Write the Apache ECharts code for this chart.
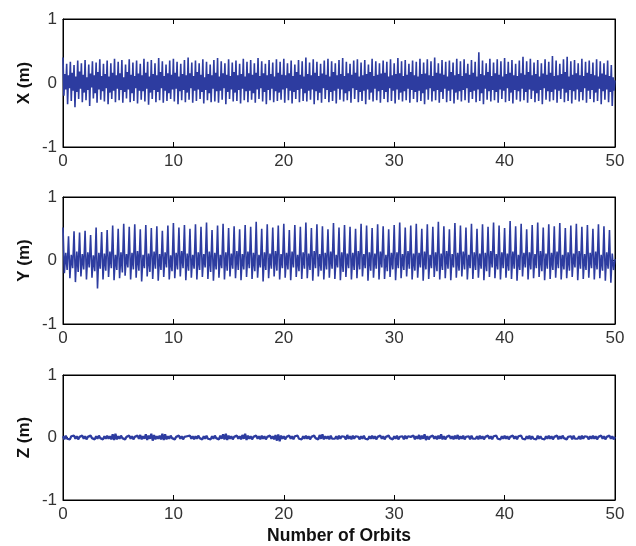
<!DOCTYPE html>
<html>
<head>
<meta charset="utf-8">
<script src="https://cdn.jsdelivr.net/npm/echarts@6/dist/echarts.min.js"></script>
<style>
    html, body {
        margin: 0;
        padding: 0;
        background: #fff;
    }
    #orbitChart {
        width: 636px;
        height: 546px;
    }
</style>
</head>
<body>
<div id="orbitChart"></div>
<script>
// sampling grids (orbits per sample)
const xStep = 1 / 12;
const yStep = 0.125;
const zStep = 0.125;
const xTicks = [0, 10, 20, 30, 40, 50];
const yTicks = [-1, 0, 1];
const panelNames = ["X (m)", "Y (m)", "Z (m)"];

// one row = one orbit
const xError = [
    0.40,-0.20,0.14,-0.10, 0.30,-0.33,0.12,-0.08, 0.33,-0.28,0.16,-0.12,
    0.28,-0.38,0.10,-0.14, 0.35,-0.25,0.18,-0.09, 0.31,-0.30,0.13,-0.15,
    0.36,-0.27,0.09,-0.11, 0.29,-0.36,0.15,-0.07, 0.34,-0.24,0.12,-0.16,
    0.32,-0.31,0.17,-0.10, 0.37,-0.26,0.11,-0.13, 0.30,-0.29,0.14,-0.08,
    0.35,-0.33,0.10,-0.15, 0.31,-0.25,0.16,-0.12, 0.38,-0.30,0.12,-0.09,
    0.33,-0.27,0.15,-0.11, 0.36,-0.31,0.09,-0.14, 0.29,-0.24,0.17,-0.10,
    0.37,-0.30,0.13,-0.16, 0.32,-0.28,0.11,-0.08, 0.35,-0.32,0.15,-0.12,
    0.30,-0.26,0.12,-0.13, 0.38,-0.29,0.16,-0.09, 0.33,-0.34,0.10,-0.15,
    0.36,-0.25,0.14,-0.11, 0.31,-0.30,0.12,-0.14, 0.39,-0.27,0.17,-0.08,
    0.34,-0.31,0.11,-0.12, 0.29,-0.28,0.15,-0.16, 0.35,-0.25,0.13,-0.10,
    0.38,-0.29,0.16,-0.09, 0.33,-0.33,0.10,-0.13, 0.30,-0.27,0.14,-0.11,
    0.36,-0.30,0.12,-0.15, 0.40,-0.26,0.15,-0.08, 0.32,-0.31,0.11,-0.12,
    0.35,-0.28,0.17,-0.10, 0.31,-0.25,0.13,-0.14, 0.37,-0.32,0.09,-0.11,
    0.33,-0.27,0.14,-0.16, 0.29,-0.30,0.12,-0.09, 0.36,-0.29,0.16,-0.13,
    0.39,-0.31,0.10,-0.12, 0.34,-0.26,0.15,-0.08, 0.31,-0.33,0.13,-0.14,
    0.37,-0.25,0.11,-0.10, 0.32,-0.29,0.17,-0.15, 0.35,-0.28,0.12,-0.11,
    0.30,-0.32,0.14,-0.09, 0.38,-0.27,0.10,-0.13, 0.33,-0.30,0.15,-0.12,
    0.36,-0.26,0.13,-0.16, 0.31,-0.31,0.16,-0.10, 0.39,-0.25,0.11,-0.08,
    0.34,-0.29,0.15,-0.14, 0.30,-0.33,0.12,-0.11, 0.36,-0.27,0.14,-0.09,
    0.32,-0.30,0.10,-0.13, 0.37,-0.28,0.16,-0.15, 0.33,-0.26,0.13,-0.10,
    0.38,-0.31,0.12,-0.08, 0.31,-0.27,0.15,-0.12, 0.35,-0.32,0.11,-0.14,
    0.29,-0.25,0.17,-0.11, 0.36,-0.30,0.13,-0.09, 0.34,-0.28,0.10,-0.16,
    0.40,-0.29,0.14,-0.12, 0.32,-0.26,0.12,-0.10, 0.37,-0.33,0.16,-0.13,
    0.33,-0.27,0.11,-0.15, 0.30,-0.31,0.15,-0.08, 0.35,-0.25,0.13,-0.11,
    0.38,-0.30,0.10,-0.14, 0.34,-0.28,0.17,-0.12, 0.31,-0.32,0.12,-0.09,
    0.36,-0.26,0.14,-0.10, 0.39,-0.29,0.11,-0.16, 0.33,-0.27,0.15,-0.13,
    0.30,-0.31,0.13,-0.08, 0.35,-0.25,0.16,-0.11, 0.37,-0.30,0.10,-0.14,
    0.32,-0.28,0.12,-0.12, 0.36,-0.33,0.14,-0.10, 0.29,-0.26,0.17,-0.15,
    0.38,-0.29,0.11,-0.09, 0.34,-0.27,0.13,-0.13, 0.31,-0.31,0.15,-0.11,
    0.35,-0.25,0.16,-0.14, 0.33,-0.30,0.10,-0.08, 0.37,-0.28,0.12,-0.12,
    0.31,-0.32,0.14,-0.10, 0.39,-0.26,0.15,-0.15, 0.34,-0.29,0.11,-0.13,
    0.36,-0.27,0.13,-0.09, 0.30,-0.31,0.17,-0.11, 0.35,-0.25,0.12,-0.14,
    0.33,-0.30,0.10,-0.12, 0.38,-0.28,0.14,-0.16, 0.32,-0.33,0.15,-0.10,
    0.37,-0.26,0.12,-0.08, 0.34,-0.29,0.11,-0.13, 0.40,-0.27,0.16,-0.11,
    0.31,-0.31,0.15,-0.14, 0.36,-0.25,0.13,-0.09, 0.33,-0.30,0.10,-0.12,
    0.35,-0.28,0.17,-0.10, 0.32,-0.32,0.12,-0.15, 0.38,-0.26,0.14,-0.13,
    0.34,-0.29,0.11,-0.11, 0.37,-0.27,0.15,-0.08, 0.30,-0.31,0.13,-0.14,
    0.36,-0.25,0.16,-0.12, 0.33,-0.30,0.10,-0.10, 0.48,-0.28,0.14,-0.16,
    0.35,-0.33,0.12,-0.09, 0.31,-0.26,0.17,-0.13, 0.38,-0.29,0.11,-0.11,
    0.32,-0.27,0.15,-0.14, 0.37,-0.31,0.13,-0.10, 0.34,-0.25,0.10,-0.12,
    0.39,-0.30,0.14,-0.08, 0.33,-0.28,0.16,-0.15, 0.36,-0.32,0.12,-0.11,
    0.30,-0.26,0.11,-0.13, 0.35,-0.29,0.15,-0.09, 0.41,-0.27,0.13,-0.14,
    0.34,-0.31,0.17,-0.10, 0.38,-0.25,0.12,-0.12, 0.32,-0.30,0.14,-0.16,
    0.36,-0.28,0.10,-0.11, 0.31,-0.33,0.15,-0.08, 0.37,-0.26,0.13,-0.13,
    0.33,-0.29,0.16,-0.14, 0.42,-0.27,0.11,-0.10, 0.35,-0.31,0.12,-0.12,
    0.30,-0.25,0.14,-0.09, 0.37,-0.30,0.17,-0.15, 0.41,-0.28,0.10,-0.11,
    0.34,-0.32,0.13,-0.13, 0.36,-0.26,0.15,-0.10, 0.31,-0.29,0.12,-0.14,
    0.38,-0.27,0.11,-0.08, 0.33,-0.31,0.16,-0.12, 0.35,-0.25,0.14,-0.11,
    0.32,-0.30,0.12,-0.15, 0.37,-0.28,0.10,-0.09, 0.34,-0.33,0.15,-0.13,
    0.31,-0.26,0.13,-0.10, 0.35,-0.30,0.11,-0.14, 0.28,-0.36,0.09,-0.12,
    0.04
];

// one row = two orbits
const yError = [
    0.52,-0.20,0.12,-0.15, 0.38,-0.28,0.09,-0.12, 0.46,-0.34,0.14,-0.18, 0.44,-0.25,0.10,-0.14,
    0.47,-0.30,0.13,-0.11, 0.40,-0.27,0.08,-0.17, 0.52,-0.44,0.12,-0.13, 0.45,-0.30,0.11,-0.16,
    0.48,-0.26,0.14,-0.12, 0.55,-0.31,0.09,-0.15, 0.50,-0.28,0.13,-0.19, 0.58,-0.24,0.10,-0.11,
    0.53,-0.30,0.12,-0.14, 0.57,-0.27,0.15,-0.16, 0.49,-0.33,0.09,-0.12, 0.56,-0.25,0.11,-0.18,
    0.51,-0.29,0.14,-0.13, 0.54,-0.32,0.10,-0.15, 0.47,-0.26,0.13,-0.11, 0.55,-0.30,0.08,-0.17,
    0.59,-0.28,0.12,-0.14, 0.52,-0.25,0.15,-0.12, 0.56,-0.31,0.11,-0.16, 0.50,-0.27,0.09,-0.13,
    0.57,-0.30,0.13,-0.15, 0.53,-0.26,0.10,-0.11, 0.60,-0.29,0.14,-0.18, 0.48,-0.32,0.12,-0.14,
    0.55,-0.27,0.09,-0.12, 0.58,-0.30,0.13,-0.16, 0.51,-0.25,0.11,-0.13, 0.54,-0.28,0.15,-0.15,
    0.49,-0.31,0.10,-0.14, 0.56,-0.26,0.14,-0.12, 0.53,-0.29,0.12,-0.17, 0.61,-0.27,0.09,-0.11,
    0.50,-0.33,0.13,-0.15, 0.57,-0.28,0.11,-0.13, 0.52,-0.25,0.15,-0.16, 0.55,-0.30,0.10,-0.12,
    0.58,-0.27,0.12,-0.14, 0.48,-0.31,0.14,-0.11, 0.56,-0.26,0.09,-0.17, 0.53,-0.29,0.13,-0.13,
    0.60,-0.28,0.11,-0.15, 0.51,-0.32,0.15,-0.12, 0.57,-0.25,0.10,-0.16, 0.54,-0.30,0.12,-0.14,
    0.49,-0.27,0.14,-0.13, 0.59,-0.29,0.09,-0.11, 0.52,-0.31,0.13,-0.18, 0.56,-0.26,0.11,-0.12,
    0.53,-0.30,0.12,-0.15, 0.50,-0.28,0.15,-0.14, 0.58,-0.25,0.10,-0.12, 0.55,-0.32,0.13,-0.16,
    0.51,-0.27,0.11,-0.13, 0.57,-0.30,0.14,-0.11, 0.54,-0.29,0.09,-0.17, 0.49,-0.26,0.12,-0.14,
    0.56,-0.31,0.13,-0.12, 0.60,-0.28,0.10,-0.15, 0.52,-0.25,0.15,-0.13, 0.55,-0.30,0.11,-0.16,
    0.58,-0.27,0.12,-0.11, 0.50,-0.32,0.14,-0.14, 0.57,-0.29,0.09,-0.12, 0.53,-0.26,0.13,-0.17,
    0.61,-0.30,0.11,-0.15, 0.54,-0.28,0.15,-0.13, 0.49,-0.31,0.10,-0.11, 0.59,-0.27,0.12,-0.16,
    0.55,-0.25,0.14,-0.14, 0.52,-0.30,0.09,-0.12, 0.58,-0.29,0.13,-0.15, 0.50,-0.27,0.11,-0.13,
    0.57,-0.31,0.12,-0.17, 0.53,-0.26,0.15,-0.11, 0.60,-0.28,0.10,-0.14, 0.55,-0.30,0.13,-0.12,
    0.51,-0.27,0.11,-0.16, 0.62,-0.29,0.14,-0.13, 0.54,-0.32,0.09,-0.15, 0.58,-0.25,0.12,-0.11,
    0.49,-0.30,0.13,-0.14, 0.56,-0.28,0.10,-0.12, 0.60,-0.26,0.15,-0.17, 0.52,-0.31,0.11,-0.13,
    0.57,-0.29,0.12,-0.15, 0.54,-0.27,0.14,-0.12, 0.59,-0.30,0.09,-0.14, 0.51,-0.28,0.13,-0.16,
    0.55,-0.26,0.11,-0.11, 0.58,-0.31,0.15,-0.13, 0.53,-0.29,0.10,-0.15, 0.56,-0.27,0.12,-0.12,
    0.50,-0.30,0.14,-0.14, 0.57,-0.28,0.09,-0.16, 0.54,-0.32,0.13,-0.13, 0.48,-0.35,0.11,-0.15,
    0.02
];

// one row = two orbits
const zError = [
    0.02,-0.03,0.03,-0.02,0.01,-0.03,0.02,-0.01,0.03,-0.02,0.02,-0.03,0.01,-0.02,0.03,-0.02,
    0.02,-0.03,0.01,-0.02,0.03,-0.01,0.02,-0.03,0.02,-0.02,0.03,-0.01,0.01,-0.03,0.02,-0.02,
    0.03,-0.02,0.02,-0.03,0.05,-0.04,0.06,-0.03,0.02,-0.02,0.03,-0.01,0.02,-0.03,0.01,-0.02,
    0.03,-0.02,0.02,-0.03,0.01,-0.02,0.03,-0.02,0.04,-0.03,0.02,-0.02,0.05,-0.04,0.03,-0.02,
    0.06,-0.05,0.04,-0.03,0.02,-0.02,0.03,-0.03,0.06,-0.04,0.05,-0.03,0.02,-0.02,0.03,-0.01,
    0.02,-0.03,0.01,-0.02,0.03,-0.02,0.02,-0.03,0.01,-0.02,0.02,-0.01,0.03,-0.02,0.02,-0.03,
    0.02,-0.02,0.03,-0.01,0.01,-0.03,0.02,-0.02,0.03,-0.02,0.01,-0.03,0.02,-0.02,0.03,-0.01,
    0.02,-0.03,0.03,-0.02,0.05,-0.03,0.06,-0.04,0.03,-0.02,0.02,-0.03,0.01,-0.02,0.03,-0.02,
    0.02,-0.03,0.04,-0.02,0.06,-0.04,0.03,-0.02,0.02,-0.03,0.01,-0.02,0.03,-0.02,0.02,-0.03,
    0.03,-0.02,0.02,-0.03,0.01,-0.02,0.03,-0.02,0.02,-0.03,0.04,-0.05,0.05,-0.06,0.03,-0.02,
    0.02,-0.03,0.01,-0.02,0.03,-0.02,0.02,-0.03,0.02,-0.01,0.03,-0.02,0.01,-0.03,0.02,-0.02,
    0.03,-0.02,0.02,-0.03,0.01,-0.02,0.03,-0.01,0.02,-0.03,0.04,-0.02,0.05,-0.03,0.02,-0.02,
    0.02,-0.03,0.03,-0.02,0.01,-0.02,0.02,-0.03,0.03,-0.02,0.02,-0.01,0.01,-0.03,0.04,-0.02,
    0.02,-0.03,0.03,-0.02,0.02,-0.01,0.01,-0.03,0.02,-0.02,0.03,-0.02,0.01,-0.03,0.02,-0.02,
    0.03,-0.02,0.02,-0.03,0.01,-0.02,0.03,-0.02,0.02,-0.03,0.01,-0.02,0.03,-0.01,0.02,-0.03,
    0.02,-0.02,0.03,-0.03,0.01,-0.02,0.02,-0.03,0.03,-0.02,0.02,-0.01,0.01,-0.02,0.03,-0.03,
    0.02,-0.02,0.04,-0.03,0.03,-0.02,0.05,-0.04,0.02,-0.03,0.01,-0.02,0.03,-0.02,0.02,-0.03,
    0.03,-0.02,0.05,-0.03,0.02,-0.03,0.01,-0.02,0.03,-0.02,0.02,-0.03,0.03,-0.02,0.04,-0.03,
    0.02,-0.02,0.03,-0.03,0.01,-0.02,0.02,-0.03,0.03,-0.02,0.01,-0.02,0.02,-0.03,0.03,-0.02,
    0.02,-0.03,0.01,-0.02,0.03,-0.02,0.02,-0.03,0.02,-0.01,0.03,-0.02,0.01,-0.03,0.02,-0.02,
    0.03,-0.02,0.02,-0.03,0.01,-0.02,0.03,-0.02,0.02,-0.03,0.02,-0.01,0.03,-0.02,0.01,-0.03,
    0.02,-0.02,0.03,-0.03,0.02,-0.02,0.01,-0.03,0.03,-0.02,0.02,-0.02,0.01,-0.03,0.02,-0.02,
    0.03,-0.02,0.02,-0.03,0.01,-0.02,0.03,-0.03,0.02,-0.02,0.03,-0.01,0.02,-0.03,0.01,-0.02,
    0.02,-0.03,0.03,-0.02,0.01,-0.02,0.02,-0.03,0.03,-0.02,0.02,-0.01,0.01,-0.03,0.02,-0.02,
    0.03,-0.02,0.02,-0.03,0.01,-0.02,0.03,-0.02,0.02,-0.03,0.01,-0.02,0.03,-0.02,0.02,-0.03,
    0.01
];

const lineColor = "#2d3ca0";
const tickFont = "Liberation Sans, Arial, sans-serif";
const nameFont = "Liberation Sans, Arial, sans-serif";
const panelTops = [19, 197, 375];
const panelHeights = [128, 127, 127];
const lineWidths = [1.6, 1.6, 2.2];

function toPoints(values, step) {
    return values.map((v, i) => [i * step, v]);
}

let grids = [];
let xAxes = [];
let yAxes = [];
let series = [];

const panels = [
    { values: xError, step: xStep },
    { values: yError, step: yStep },
    { values: zError, step: zStep },
];

const boxLine = { show: true, onZero: false, lineStyle: { color: "#000", width: 1 } };
const boxTick = { show: true, inside: true, length: 5, lineStyle: { color: "#000" } };

panels.forEach((panel, idx) => {
    grids.push({
        left: 63,
        top: panelTops[idx],
        width: 552,
        height: panelHeights[idx],
        show: true,
        borderColor: "#000",
        borderWidth: 1,
        backgroundColor: "#fff",
    });
    // bottom axis with labels
    xAxes.push({
        gridIndex: idx,
        type: "value",
        min: 0,
        max: 50,
        interval: 10,
        position: "bottom",
        name: idx == 2 ? "Number of Orbits" : "",
        nameLocation: "middle",
        nameGap: 27,
        nameMoveOverlap: false,
        nameTextStyle: {
            fontFamily: nameFont,
            fontSize: 17.5,
            fontWeight: "bold",
            color: "#111",
        },
        axisLine: boxLine,
        axisTick: boxTick,
        axisLabel: {
            margin: 6,
            fontFamily: tickFont,
            fontSize: 17,
            color: "#333",
            customValues: xTicks,
        },
        splitLine: { show: false },
    });
    // top axis, ticks only
    xAxes.push({
        gridIndex: idx,
        type: "value",
        min: 0,
        max: 50,
        interval: 10,
        position: "top",
        axisLine: boxLine,
        axisTick: boxTick,
        axisLabel: { show: false },
        splitLine: { show: false },
    });
    yAxes.push({
        gridIndex: idx,
        type: "value",
        min: -1,
        max: 1,
        interval: 1,
        position: "left",
        name: panelNames[idx],
        nameLocation: "middle",
        nameRotate: 90,
        nameGap: 30,
        nameMoveOverlap: false,
        nameTextStyle: {
            fontFamily: nameFont,
            fontSize: 17,
            fontWeight: "bold",
            color: "#111",
        },
        axisLine: boxLine,
        axisTick: boxTick,
        axisLabel: {
            margin: 6,
            fontFamily: tickFont,
            fontSize: 17,
            color: "#333",
            customValues: yTicks,
        },
        splitLine: { show: false },
    });
    yAxes.push({
        gridIndex: idx,
        type: "value",
        min: -1,
        max: 1,
        interval: 1,
        position: "right",
        axisLine: boxLine,
        axisTick: boxTick,
        axisLabel: { show: false },
        splitLine: { show: false },
    });
    series.push({
        name: panelNames[idx],
        type: "line",
        xAxisIndex: idx * 2,
        yAxisIndex: idx * 2,
        data: toPoints(panel.values, panel.step),
        showSymbol: false,
        sampling: null,
        lineStyle: { color: lineColor, width: lineWidths[idx] },
        color: lineColor,
    });
});

let chartOption = {
    backgroundColor: "#fff",
    animation: false,
    grid: grids,
    xAxis: xAxes,
    yAxis: yAxes,
    series: series,
};

let myChart = echarts.init(document.getElementById("orbitChart"));
myChart.setOption(chartOption);
window.onresize = () => {
    myChart.resize();
};
</script>
</body>
</html>
